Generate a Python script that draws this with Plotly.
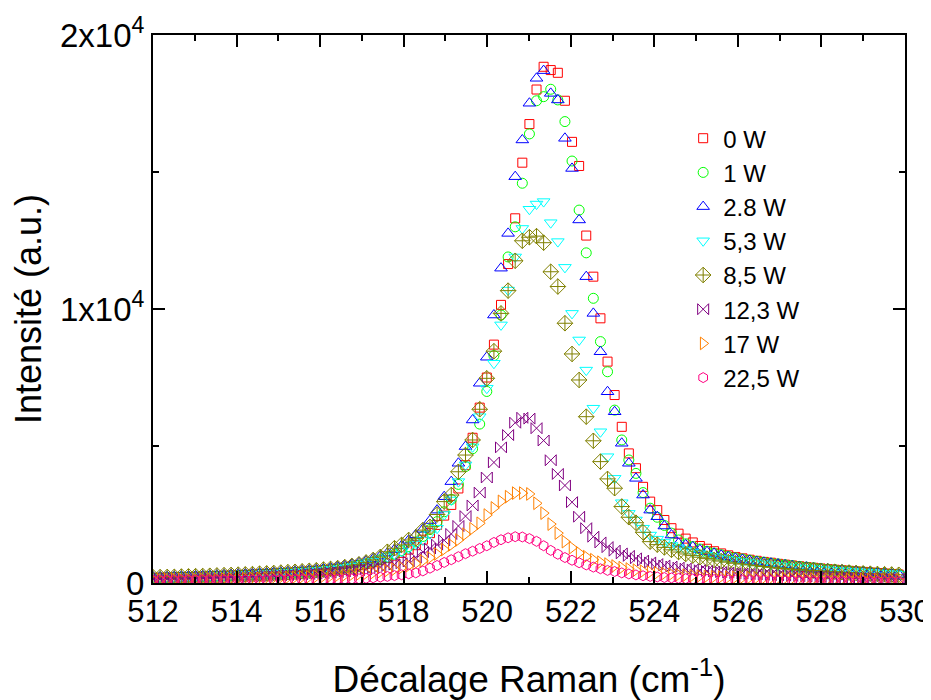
import numpy as np
import plotly.graph_objects as go

# Raman shift grid (cm-1), regular spectrometer sampling
raman_shift = np.round(512.0 + 0.17 * np.arange(106), 2)

labels = ["0 W", "1 W", "2.8 W", "5,3 W", "8,5 W", "12,3 W", "17 W", "22,5 W"]

p0 = [190, 195, 200, 205, 215, 220, 230, 235, 245, 255,
      265, 275, 285, 295, 305, 320, 330, 345, 360, 375,
      390, 405, 425, 445, 465, 490, 520, 555, 600, 650,
      700, 760, 830, 910, 1000, 1100, 1220, 1380, 1580, 1820,
      2120, 2460, 2850, 3450, 4300, 5300, 6400, 7500, 8700, 10150,
      11640, 13310, 15340, 16750, 18010, 18840, 18720, 18620, 17600, 16100,
      15220, 12680, 11180, 9660, 8080, 6860, 5700, 4730, 4190, 3510,
      2970, 2660, 2300, 2000, 1800, 1620, 1480, 1350, 1250, 1160,
      1080, 1010, 950, 900, 850, 810, 770, 740, 700, 670,
      640, 610, 580, 555, 530, 505, 485, 465, 445, 425,
      405, 385, 365, 345, 330, 310]

p1 = [185, 190, 195, 200, 210, 215, 225, 230, 240, 250,
      260, 270, 280, 290, 300, 315, 325, 340, 355, 370,
      385, 400, 420, 440, 460, 485, 515, 550, 595, 645,
      700, 770, 850, 940, 1050, 1180, 1330, 1500, 1700, 1950,
      2240, 2600, 3050, 3600, 4250, 4900, 5800, 6990, 8300, 9780,
      11900, 13000, 14590, 16390, 17600, 17750, 18020, 17630, 16840, 15400,
      13610, 12050, 10390, 8810, 7710, 6310, 5220, 4490, 4000, 3300,
      2730, 2400, 2100, 1820, 1570, 1430, 1330, 1240, 1160, 1090,
      1030, 970, 920, 875, 835, 795, 760, 725, 695, 665,
      635, 605, 580, 555, 530, 505, 485, 465, 445, 425,
      405, 385, 365, 345, 325, 305]

p28 = [220, 225, 235, 240, 250, 255, 265, 270, 280, 290,
       300, 310, 325, 335, 345, 360, 370, 385, 400, 415,
       430, 450, 470, 495, 520, 550, 590, 630, 680, 740,
       800, 880, 980, 1090, 1220, 1360, 1560, 1760, 1960, 2280,
       2660, 3150, 3700, 4370, 4980, 5950, 7290, 8240, 9780, 11490,
       12760, 14830, 16170, 17510, 18420, 18700, 17870, 17630, 16230, 15130,
       13250, 11180, 9840, 8440, 6980, 6250, 5100, 4370, 3820, 3210,
       2660, 2420, 2080, 1750, 1450, 1390, 1320, 1210, 1140, 1080,
       1010, 950, 900, 860, 820, 780, 750, 720, 690, 660,
       630, 600, 580, 555, 530, 510, 490, 470, 450, 430,
       410, 390, 370, 350, 330, 310]

p53 = [200, 205, 210, 215, 225, 230, 240, 245, 255, 265,
       275, 285, 295, 305, 315, 330, 340, 355, 370, 385,
       400, 415, 435, 455, 475, 500, 530, 565, 610, 670,
       740, 800, 880, 960, 1050, 1150, 1270, 1420, 1570, 1800,
       2000, 2500, 3030, 3700, 4310, 4970, 6070, 7110, 8020, 9420,
       10690, 11900, 12940, 13640, 13830, 13920, 13150, 12460, 11520, 9840,
       8870, 7770, 6380, 5520, 4610, 3820, 2930, 2540, 2300, 2000,
       1750, 1600, 1480, 1370, 1280, 1200, 1130, 1070, 1010, 960,
       910, 870, 830, 790, 760, 730, 700, 670, 640, 615,
       590, 565, 545, 525, 505, 485, 465, 450, 430, 415,
       400, 385, 370, 355, 340, 325]

p85 = [210, 215, 220, 225, 235, 240, 250, 255, 265, 275,
       285, 295, 305, 315, 325, 340, 350, 365, 380, 395,
       410, 425, 445, 465, 490, 515, 545, 580, 625, 680,
       750, 840, 950, 1140, 1270, 1390, 1570, 1630, 1930, 2050,
       2500, 2970, 3210, 4060, 4670, 5220, 6340, 7470, 8460, 9840,
       10670, 11760, 12490, 12620, 12660, 12420, 11360, 10820, 9480, 8360,
       7410, 6070, 5190, 4430, 3800, 3460, 2790, 2400, 2200, 1850,
       1510, 1400, 1300, 1210, 1130, 1060, 1000, 940, 890, 840,
       800, 760, 720, 690, 660, 630, 600, 580, 555, 530,
       510, 490, 470, 455, 440, 425, 410, 395, 380, 365,
       350, 340, 330, 320, 310, 300]

p123 = [150, 155, 160, 165, 170, 175, 180, 185, 190, 200,
        205, 210, 220, 225, 235, 245, 255, 265, 275, 290,
        300, 315, 330, 345, 360, 380, 400, 420, 445, 470,
        500, 540, 580, 620, 670, 720, 790, 930, 1130, 1260,
        1400, 1560, 1790, 2080, 2440, 2830, 3300, 3850, 4400, 4950,
        5400, 5850, 6030, 6000, 5650, 5200, 4480, 3980, 3560, 2950,
        2420, 2000, 1690, 1480, 1310, 1180, 1080, 990, 900, 820,
        750, 690, 640, 600, 560, 525, 495, 465, 440, 420,
        400, 380, 360, 345, 330, 315, 300, 290, 280, 270,
        260, 250, 240, 230, 222, 215, 208, 200, 195, 190,
        185, 180, 175, 170, 165, 160]

p17 = [120, 122, 125, 128, 131, 134, 137, 140, 144, 148,
       152, 156, 160, 165, 170, 175, 181, 187, 194, 201,
       209, 217, 226, 236, 247, 259, 272, 287, 304, 323,
       345, 370, 405, 450, 500, 560, 630, 710, 810, 920,
       1060, 1220, 1390, 1570, 1780, 1980, 2180, 2480, 2740, 2980,
       3150, 3280, 3280, 3250, 2910, 2550, 2150, 1820, 1510, 1290,
       1100, 960, 850, 760, 690, 620, 560, 510, 470, 430,
       400, 370, 345, 320, 300, 285, 270, 255, 242, 230,
       220, 212, 205, 198, 192, 186, 180, 175, 170, 165,
       160, 156, 152, 148, 145, 142, 139, 136, 133, 130,
       128, 126, 124, 122, 120, 118]

p225 = [100, 101, 102, 103, 104, 105, 106, 107, 108, 109,
        110, 111, 112, 113, 114, 115, 117, 119, 121, 123,
        125, 127, 129, 131, 134, 137, 140, 144, 148, 155,
        170, 190, 215, 240, 270, 300, 335, 370, 440, 540,
        640, 750, 850, 960, 1070, 1160, 1260, 1360, 1480, 1580,
        1650, 1690, 1680, 1620, 1520, 1360, 1190, 1050, 930, 830,
        740, 660, 580, 520, 460, 420, 370, 330, 295, 265,
        240, 220, 200, 185, 170, 158, 148, 140, 132, 125,
        118, 112, 106, 100, 95, 90, 86, 82, 78, 75,
        72, 69, 66, 63, 61, 59, 57, 55, 53, 51,
        50, 48, 47, 46, 45, 44]

series = [p0, p1, p28, p53, p85, p123, p17, p225]
colors = ["#FF0000", "#00FF00", "#0000FF", "#00FFFF", "#808000", "#800080", "#FF8000", "#FF0080"]
symbols = ["square-open", "circle-open", "triangle-up-open", "triangle-down-open",
           "diamond-cross-open", "bowtie-open", "triangle-right-open", "hexagon-open"]
sizes = [9, 10, 11, 11, 12, 11, 11, 10]

FONT = "Liberation Sans, Arial, Helvetica, sans-serif"

fig = go.Figure()
for k, (vals, lab, col, sym, sz) in enumerate(zip(series, labels, colors, symbols, sizes)):
    fig.add_trace(go.Scatter(
        x=raman_shift, y=vals, mode="markers", name=lab, legendgroup=f"g{k}",
        marker=dict(symbol=sym, size=sz, color=col, line=dict(color=col, width=1)),
    ))

axis_common = dict(
    showline=True, linecolor="black", linewidth=2, mirror="ticks",
    ticks="inside", tickcolor="black", tickwidth=2, ticklen=12,
    showgrid=False, zeroline=False, automargin=False,
    ticklabeloverflow="allow",
)

fig.update_xaxes(
    range=[512, 530], tick0=512, dtick=2,
    tickfont=dict(family=FONT, size=31, color="black"),
    minor=dict(dtick=1, ticks="inside", ticklen=6, tickwidth=2, tickcolor="black"),
    title=dict(text="Décalage Raman (cm<sup>-1</sup>)", font=dict(family=FONT, size=37, color="black"), standoff=44),
    **axis_common,
)
fig.update_yaxes(
    range=[0, 20000], tickmode="array", tickvals=[0, 10000, 20000],
    ticktext=["0", "1x10<sup>4</sup>", "2x10<sup>4</sup>"],
    tickfont=dict(family=FONT, size=33, color="black"),
    minor=dict(tickvals=[5000, 15000], ticks="inside", ticklen=6, tickwidth=2, tickcolor="black"),
    title=dict(text="Intensité (a.u.)", font=dict(family=FONT, size=36, color="black"), standoff=9),
    **axis_common,
)

# the page adds an 8 px body margin, so the figure is offset by (8, 8)
fig.update_layout(
    width=923, height=692,
    margin=dict(l=145, r=26, t=27, b=117),
    plot_bgcolor="white", paper_bgcolor="white",
    font=dict(family=FONT, color="black"),
    legend=dict(x=0.705, y=0.852, xanchor="left", yanchor="top",
                font=dict(family=FONT, size=24, color="black"),
                bgcolor="rgba(0,0,0,0)", tracegroupgap=0, itemsizing="trace"),
    showlegend=True,
)

fig.write_html("out.html")
